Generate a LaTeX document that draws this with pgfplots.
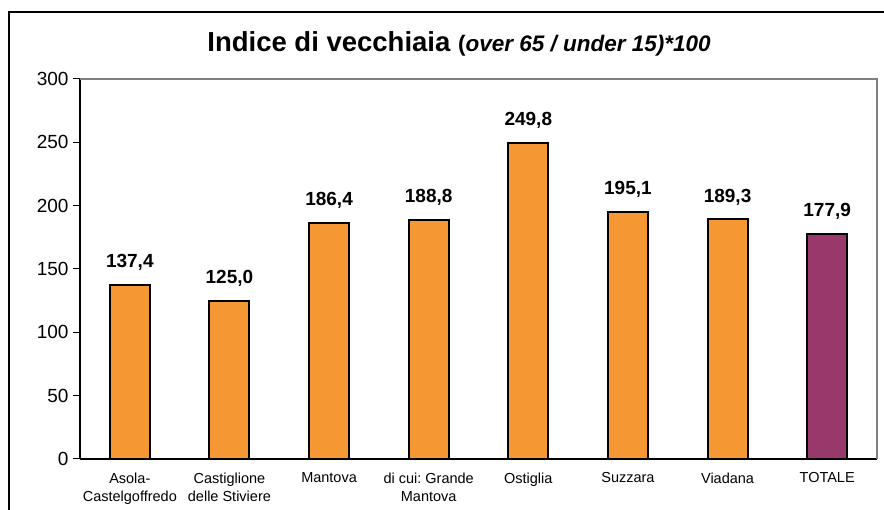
\documentclass[border=0pt]{standalone}
\usepackage{pgfplots}
\pgfplotsset{compat=1.18}
\usepackage{fontspec}
\setmainfont{Liberation Sans}
\frenchspacing
\definecolor{barorange}{RGB}{245,152,51}
\definecolor{barplum}{RGB}{153,56,107}
\definecolor{frgray}{RGB}{128,128,128}
\begin{document}
\begin{tikzpicture}[x=1pt,y=1pt]
\useasboundingbox (0,0) rectangle (884,510);
\clip (0,0) rectangle (884,510);
\draw[black, line width=1.2pt] (9,498) rectangle (905,-20);
\node[anchor=base] at (459,458) {\fontsize{27.5}{30}\selectfont\bfseries Indice di vecchiaia \fontsize{22.5}{26}\selectfont(\itshape over 65 / under 15)*100};
\begin{axis}[
  at={(80pt,51pt)}, anchor=south west,
  scale only axis, width=797pt, height=380pt,
  xmin=-0.5, xmax=7.5, ymin=0, ymax=300,
  ytick={0,50,...,300},
  xtick={0,1,2,3,4,5,6,7},
  xticklabels={{Asola-\\Castelgoffredo},{Castiglione\\delle Stiviere},{Mantova},{di cui: Grande\\Mantova},{Ostiglia},{Suzzara},{Viadana},{TOTALE}},
  x tick label style={align=center, font=\fontsize{14.5}{18}\selectfont\frenchspacing, text depth=0pt, yshift=-3pt},
  y tick label style={font=\fontsize{19}{20}\selectfont, xshift=-1pt},
  x tick style={draw=none},
  extra x ticks={-0.5,0.5,...,7.5},
  extra x tick labels={},
  extra x tick style={major tick length=7pt, tick align=outside, tick style={black, line width=1pt, draw=black}},
  major tick length=7pt, tick align=outside,
  y tick style={black, line width=1pt},
  axis x line*=bottom, axis y line*=left,
  axis line style={black, line width=1.2pt},
  /pgf/number format/assume math mode=true,
  ybar, bar width=40pt,
  nodes near coords={\pgfmathprintnumber[fixed,fixed zerofill,precision=1,use comma,assume math mode=true]{\pgfplotspointmeta}},
  every node near coord/.append style={font=\fontsize{19}{20}\selectfont\bfseries, anchor=base, yshift=17pt, black},
  clip=false,
]
\addplot[bar shift=0pt, fill=barorange, draw=black, line width=2pt] coordinates {(0,137.4) (1,125.0) (2,186.4) (3,188.8) (4,249.8) (5,195.1) (6,189.3)};
\addplot[bar shift=0pt, fill=barplum, draw=black, line width=2pt] coordinates {(7,177.9)};
\draw[frgray, line width=1.2pt] (rel axis cs:0,1) -- (rel axis cs:1,1) -- (rel axis cs:1,0);
\end{axis}
\end{tikzpicture}
\end{document}
